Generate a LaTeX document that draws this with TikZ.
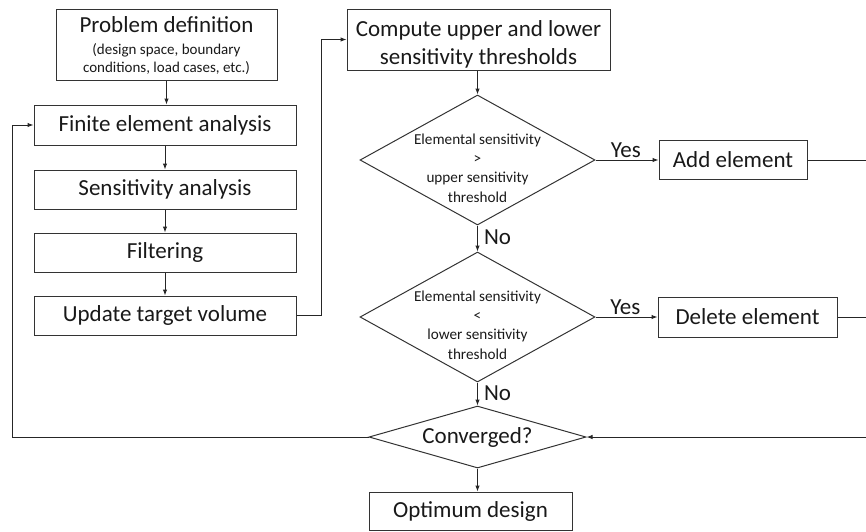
\documentclass[tikz,border=0pt]{standalone}
\usepackage{fontspec}
\setmainfont{Carlito}
\usetikzlibrary{shapes.geometric,arrows.meta}
\begin{document}
\begin{tikzpicture}[x=1pt,y=-1pt,
  line width=1pt,
  every node/.style={text=black!90},
  big/.style={font=\fontsize{23}{29}\selectfont},
  small/.style={font=\fontsize{15.2}{19.3}\selectfont},
  box/.style={draw=black!80, rectangle, inner sep=0pt, align=center, big},
  txt/.style={inner sep=0pt, align=center},
  dec/.style={draw=black!80, diamond, inner sep=0pt, align=center},
  flow/.style={draw=black!85, -{Latex[length=6pt,width=4.5pt]}},
  link/.style={draw=black!85},
  lbl/.style={big, inner sep=2pt}
]
\useasboundingbox (0,0) rectangle (866,531);

% left column
\node[box, minimum width=221pt, minimum height=71pt] (pd) at (166.5,44.5) {};
\node[txt, big] (pdt) at (166.5,25) {Problem definition};
\node[txt, font=\fontsize{15}{18}\selectfont] (pds) at (166.5,59)
  {(design space, boundary\\conditions, load cases, etc.)};
\node[box, minimum width=262pt, minimum height=40pt] (fea) at (165,125) {Finite element analysis};
\node[box, minimum width=262pt, minimum height=39pt] (sa) at (165,189.5) {Sensitivity analysis};
\node[box, minimum width=262pt, minimum height=39pt] (filt) at (165,252.5) {Filtering};
\node[box, minimum width=262pt, minimum height=39pt] (utv) at (165,315.5) {Update target volume};

% middle column
\node[box, minimum width=263pt, minimum height=61pt] (cmp) at (478.5,39.5) {};
\node[txt, big] (cmpt) at ([yshift=-5pt]cmp.center)
  {Compute upper and lower\\[-1pt]sensitivity thresholds};
\node[dec, minimum width=235pt, minimum height=130pt] (d1) at (477.5,160) {};
\node[txt, small] (d1t) at ([yshift=-8pt]d1.center)
  {Elemental sensitivity\\>\\upper sensitivity\\threshold};
\node[dec, minimum width=235pt, minimum height=130pt] (d2) at (477.5,317) {};
\node[txt, small] (d2t) at ([yshift=-8pt]d2.center)
  {Elemental sensitivity\\<\\lower sensitivity\\threshold};
\node[dec, aspect=3.5, minimum width=217pt, minimum height=62pt, big] (conv) at (477.5,437) {Converged?};
\node[box, minimum width=203pt, minimum height=38pt] (opt) at (470.5,511) {Optimum design};

% right column
\node[box, minimum width=148pt, minimum height=39pt] (add) at (733,160) {Add element};
\node[box, minimum width=179pt, minimum height=40pt] (del) at (747.5,317) {Delete element};

% turning points of the loops
\coordinate (lft) at (12,437);
\coordinate (up) at (321,315.5);
\coordinate (rgt) at (870,437);

% main chain
\draw[flow] (pd.south) -- (pd.south |- fea.north);
\draw[flow] (fea.south) -- (sa.north);
\draw[flow] (sa.south) -- (filt.north);
\draw[flow] (filt.south) -- (utv.north);
\draw[flow] (utv.east) -- (up) |- (cmp.west);
\draw[flow] (d1.north |- cmp.south) -- (d1.north);
\draw[flow] (d1.east) -- node[lbl, above, pos=0.48] {Yes} (add.west);
\draw[flow] (d1.south) -- node[lbl, right, pos=0.45, xshift=4pt] {No} (d2.north);
\draw[flow] (d2.east) -- node[lbl, above, pos=0.48] {Yes} (del.west);
\draw[flow] (d2.south) -- node[lbl, right, pos=0.45, xshift=4pt] {No} (conv.north);
\draw[flow] (conv.south) -- (conv.south |- opt.north);

% feedback loops
\draw[flow] (conv.west) -- (lft) |- (fea.west);
\draw[link] (add.east) -- (add.east -| rgt);
\draw[link] (del.east) -- (del.east -| rgt);
\draw[flow] (rgt |- add.east) -- (rgt) -- (conv.east);
\end{tikzpicture}
\end{document}
